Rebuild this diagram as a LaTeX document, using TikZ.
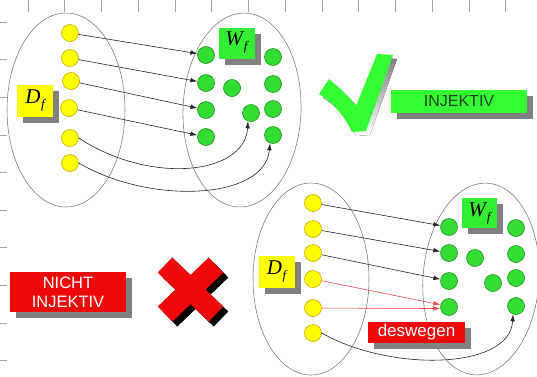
\documentclass[tikz,border=0pt]{standalone}
\usepackage{fontspec}
\setmainfont{Liberation Sans}
\newfontfamily\serifit{Liberation Serif}
\usetikzlibrary{shapes.geometric,shadows,arrows.meta}

\definecolor{dotyellow}{HTML}{FFFF00}
\definecolor{dotyellowline}{HTML}{C8A800}
\definecolor{dotgreen}{HTML}{33DD33}
\definecolor{dotgreenline}{HTML}{1F8F1F}
\definecolor{brightgreen}{HTML}{33FF33}
\definecolor{labelgreen}{HTML}{33EE33}
\definecolor{alarm}{HTML}{EE0A0A}
\definecolor{shade}{HTML}{808080}
\definecolor{rim}{HTML}{777777}
\definecolor{darktext}{HTML}{2A3A2A}

\tikzset{
  setshape/.style={ellipse, draw=rim, line width=0.55pt, inner sep=0pt,
    minimum width=118pt, minimum height=194pt},
  ydot/.style={circle, fill=dotyellow, draw=dotyellowline, line width=0.6pt,
    minimum size=17pt, inner sep=0pt},
  gdot/.style={circle, fill=dotgreen, draw=dotgreenline, line width=0.6pt,
    minimum size=17pt, inner sep=0pt},
  castshadow/.style={drop shadow={shadow xshift=6pt, shadow yshift=-6pt,
    fill=shade, opacity=1}},
  tagbox/.style={rectangle, inner sep=0pt, castshadow},
  dftag/.style={tagbox, fill=dotyellow, minimum width=36pt, minimum height=32pt,
    font=\fontsize{21}{21}\serifit\itshape},
  wftag/.style={tagbox, fill=labelgreen, minimum width=36pt, minimum height=31pt,
    font=\fontsize{21}{21}\serifit\itshape},
  mapto/.style={-{Latex[length=7pt,width=4.5pt]}, line width=0.6pt, draw=black!85},
  badmap/.style={-{Latex[length=7pt,width=4.5pt]}, line width=0.6pt, draw=alarm!75},
  tick/.style={draw=black!35, line width=0.6pt}
}

\newcommand{\dflabel}{D\kern0.5pt\raisebox{-5pt}{\fontsize{13}{13}\selectfont f}}
\newcommand{\wflabel}{W\kern1pt\raisebox{-5pt}{\fontsize{13}{13}\selectfont f}}

\begin{document}
\begin{tikzpicture}[x=1pt,y=-1pt]
\useasboundingbox (0,0) rectangle (537,376);
\fill[white] (0,0) rectangle (537,376);

% ruler ticks along the top and left edges
\foreach \i in {0,...,13} \draw[tick] ({28+36.75*\i},0) -- ++(0,12);
\foreach \i in {0,...,9} \draw[tick] (0,{22+37.6*\i}) -- ++(7,0);

% ---------- injective mapping (top) ----------
\node[setshape] (domA) at (66,110) {};
\node[setshape, rotate=-2] (codA) at (242,110) {};

\node[ydot] (a1) at (70,33) {};
\node[ydot] (a2) at (70,58) {};
\node[ydot] (a3) at (71,81) {};
\node[ydot] (a4) at (69,108) {};
\node[ydot] (a5) at (70,138) {};
\node[ydot] (a6) at (70,163) {};

\node[gdot] (p1) at (206,55) {};
\node[gdot] (p2) at (206,83) {};
\node[gdot] (p3) at (206,110) {};
\node[gdot] (p4) at (206,137) {};
\node[gdot] (p5) at (232,88) {};
\node[gdot] (p6) at (251,113) {};
\node[gdot] (p7) at (273,57) {};
\node[gdot] (p8) at (273,84) {};
\node[gdot] (p9) at (273,109) {};
\node[gdot] (p10) at (273,135) {};

\draw[mapto] (a1) -- (p1);
\draw[mapto] (a2) -- (p2);
\draw[mapto] (a3) -- (p3);
\draw[mapto] (a4) -- (p4);
\draw[mapto] (a5.east) .. controls (150,185) and (245,175) .. (p6.250);
\draw[mapto] (a6.east) .. controls (150,205) and (265,200) .. (p10.250);

\node[dftag] (dfA) at (35,101) {\dflabel};
\node[wftag] (wfA) at (236.5,43) {\wflabel};

% tick mark and verdict
\begin{scope}[shift={(4,4)}]
  \fill[shade] (319,94) -- (329,79) .. controls (340,88) and (349,97) .. (356,106)
    -- (377,54) -- (393,55) -- (366,131) -- (352,132)
    .. controls (345,117) and (333,102) .. cycle;
\end{scope}
\fill[brightgreen] (319,94) -- (329,79) .. controls (340,88) and (349,97) .. (356,106)
    -- (377,54) -- (393,55) -- (366,131) -- (352,132)
    .. controls (345,117) and (333,102) .. cycle;

\node[tagbox, fill=brightgreen, minimum width=136pt, minimum height=23pt,
  text=darktext, font=\fontsize{16}{16}\selectfont] (okA) at (459,101.5) {INJEKTIV};

% ---------- non-injective mapping (bottom) ----------
\node[setshape, minimum width=116pt, minimum height=192pt] (domB) at (311,279) {};
\node[setshape, minimum width=116pt, minimum height=192pt, rotate=-4] (codB) at (481,279) {};

\node[ydot] (b1) at (313,203) {};
\node[ydot] (b2) at (313,229) {};
\node[ydot] (b3) at (313,253) {};
\node[ydot] (b4) at (313,279) {};
\node[ydot] (b5) at (313,308) {};
\node[ydot] (b6) at (313,333) {};

\node[gdot] (q1) at (449,227) {};
\node[gdot] (q2) at (449,253) {};
\node[gdot] (q3) at (449,281) {};
\node[gdot] (q4) at (449,307) {};
\node[gdot] (q5) at (475,258) {};
\node[gdot] (q6) at (493,283) {};
\node[gdot] (q7) at (516,228) {};
\node[gdot] (q8) at (516,254) {};
\node[gdot] (q9) at (516,278) {};
\node[gdot] (q10) at (516,306) {};

\draw[mapto] (b1) -- (q1);
\draw[mapto] (b2) -- (q2);
\draw[mapto] (b3) -- (q3);
\draw[badmap] (b4) -- (q4.165);
\draw[badmap] (b5) -- (q4.190);
\draw[mapto] (b6.east) .. controls (390,372) and (510,370) .. (q10.250);

\node[dftag] (dfB) at (276.5,271.5) {\dflabel};
\node[wftag, minimum width=35pt, minimum height=30pt] (wfB) at (479.5,213) {\wflabel};

\node[tagbox, fill=alarm, minimum width=97pt, minimum height=21pt,
  text=white, font=\fontsize{17}{17}\selectfont] (why) at (416.5,332.5) {deswegen};

% cross and verdict
\begin{scope}[shift={(5,5)}]
  \draw[shade, line width=21pt] (165,265) -- (216,314);
  \draw[shade, line width=21pt] (216,265) -- (165,314);
\end{scope}
\draw[alarm, line width=21pt] (165,265) -- (216,314);
\draw[alarm, line width=21pt] (216,265) -- (165,314);

\node[tagbox, fill=alarm, minimum width=116pt, minimum height=40pt,
  text=white, align=center, font=\fontsize{16.5}{19}\selectfont] (notA) at (68,292)
  {NICHT\\INJEKTIV};
\end{tikzpicture}
\end{document}
